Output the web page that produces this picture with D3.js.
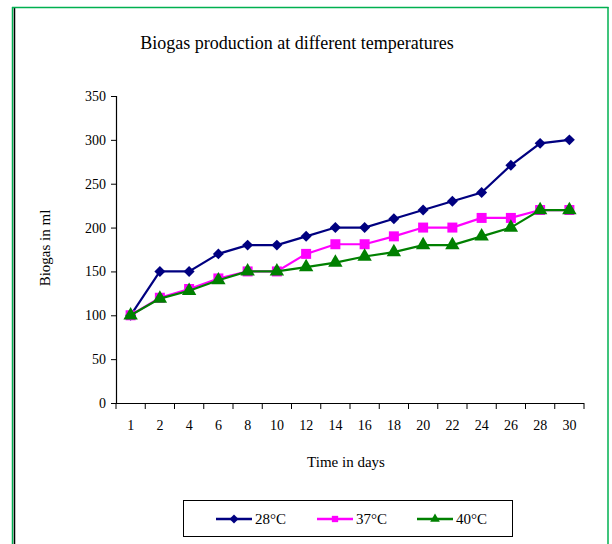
<!DOCTYPE html>
<html>
<head>
<meta charset="utf-8">
<script src="https://cdn.jsdelivr.net/npm/d3@7"></script>
<style>
  html, body { margin: 0; padding: 0; background: #fff; }
  svg { display: block; }
  text { font-family: "Liberation Serif", "Times New Roman", serif; fill: #000; }
</style>
</head>
<body>
<svg id="chart" width="612" height="544"></svg>
<script>
// Sampling days (categorical axis)
const days = ["1", "2", "4", "6", "8", "10", "12", "14", "16", "18", "20", "22", "24", "26", "28", "30"];

// Cumulative biogas volume (ml) per temperature
const t28 = [100, 150, 150, 170, 180, 180, 190, 200, 200, 210, 220, 230, 240, 271, 296, 300];
const t37 = [100, 120, 130, 142, 150, 150, 170, 181, 181, 190, 200, 200, 211, 211, 220, 220];
const t40 = [100, 119, 128, 140, 150, 150, 155, 160, 167, 172, 180, 180, 190, 200, 220, 220];

const seriesNames = ["28°C", "37°C", "40°C"];
const seriesColors = ["#000080", "#ff00ff", "#008000"];
// Diamond drawn as a square turned 45 degrees
const seriesSymbols = [d3.symbolSquare, d3.symbolSquare, d3.symbolTriangle];
const seriesRotate = [45, 0, 0];

const yTicks = [0, 50, 100, 150, 200, 250, 300, 350];

const svg = d3.select("#chart");

// Frame around the figure
svg.append("line").attr("x1", 12.5).attr("x2", 12.5).attr("y1", 7).attr("y2", 544)
  .attr("stroke", "#00b050").attr("stroke-width", 1.5);
svg.append("line").attr("x1", 14.5).attr("x2", 14.5).attr("y1", 7.5).attr("y2", 544)
  .attr("stroke", "#000").attr("stroke-width", 1.5);
svg.append("line").attr("x1", 12).attr("x2", 608.5).attr("y1", 7.5).attr("y2", 7.5)
  .attr("stroke", "#00b050").attr("stroke-width", 1.5);
svg.append("line").attr("x1", 608).attr("x2", 608).attr("y1", 7).attr("y2", 544)
  .attr("stroke", "#00b050").attr("stroke-width", 1.5);

// Plot area
const plotLeft = 116, plotRight = 584, plotTop = 96, plotBottom = 403;

const x = d3.scaleBand().domain(days).range([plotLeft, plotRight]);
const y = d3.scaleLinear().domain([0, 350]).range([plotBottom, plotTop]);

// Title
svg.append("text")
  .attr("x", 297).attr("y", 49)
  .attr("text-anchor", "middle")
  .attr("font-size", 18)
  .text("Biogas production at different temperatures");

// Y axis
const yAxis = svg.append("g")
  .attr("transform", `translate(${plotLeft},0)`)
  .call(d3.axisLeft(y).tickValues(yTicks).tickSize(5).tickPadding(5).tickFormat(d3.format("d")));
yAxis.select(".domain").attr("stroke", "#000").attr("stroke-width", 1.2);
yAxis.selectAll(".tick line").attr("stroke", "#000");
yAxis.selectAll(".tick text").attr("font-size", 14).attr("font-family", "Liberation Serif, serif");

// X axis: ticks sit on category boundaries
const boundaries = days.map(d => x(d)).concat([plotRight]);
const xg = svg.append("g");
xg.append("line").attr("x1", plotLeft).attr("x2", plotRight).attr("y1", plotBottom + 0.5).attr("y2", plotBottom + 0.5)
  .attr("stroke", "#000").attr("stroke-width", 1.2);
xg.selectAll("line.tick").data(boundaries).join("line")
  .attr("class", "tick")
  .attr("x1", d => d).attr("x2", d => d)
  .attr("y1", plotBottom).attr("y2", plotBottom + 6)
  .attr("stroke", "#000");
xg.selectAll("text").data(days).join("text")
  .attr("x", d => x(d) + x.bandwidth() / 2)
  .attr("y", plotBottom + 27)
  .attr("text-anchor", "middle")
  .attr("font-size", 14)
  .text(d => d);

// Axis titles
svg.append("text")
  .attr("x", 346).attr("y", 467)
  .attr("text-anchor", "middle")
  .attr("font-size", 15)
  .text("Time in days");
svg.append("text")
  .attr("transform", "translate(50,248) rotate(-90)")
  .attr("text-anchor", "middle")
  .attr("font-size", 15)
  .text("Biogas in ml");

// Series lines and markers
const cx = d => x(d) + x.bandwidth() / 2;
const allSeries = [t28, t37, t40];
const line = d3.line().x(d => cx(d.day)).y(d => y(d.v));
const symSizes = [60, 100, 90];

allSeries.forEach((vals, i) => {
  const pts = days.map((day, j) => ({ day, v: vals[j] }));
  svg.append("path")
    .datum(pts)
    .attr("d", line)
    .attr("fill", "none")
    .attr("stroke", seriesColors[i])
    .attr("stroke-width", 2.2);
  svg.append("g").selectAll("path").data(pts).join("path")
    .attr("transform", d => `translate(${cx(d.day)},${y(d.v)}) rotate(${seriesRotate[i]})`)
    .attr("d", d3.symbol().type(seriesSymbols[i]).size(symSizes[i]))
    .attr("fill", seriesColors[i]);
});

// Legend
const lg = svg.append("g");
lg.append("rect").attr("x", 183.5).attr("y", 500.5).attr("width", 329).attr("height", 36)
  .attr("fill", "#fff").attr("stroke", "#000").attr("stroke-width", 1);
const legendX = [216, 317, 417];
seriesNames.forEach((name, i) => {
  const lx = legendX[i];
  lg.append("line").attr("x1", lx).attr("x2", lx + 36).attr("y1", 519).attr("y2", 519)
    .attr("stroke", seriesColors[i]).attr("stroke-width", 2.5);
  lg.append("path")
    .attr("transform", `translate(${lx + 18},519) rotate(${seriesRotate[i]})`)
    .attr("d", d3.symbol().type(seriesSymbols[i]).size(40))
    .attr("fill", seriesColors[i]);
  lg.append("text").attr("x", lx + 39).attr("y", 524)
    .attr("font-size", 15)
    .text(name);
});
</script>
</body>
</html>
